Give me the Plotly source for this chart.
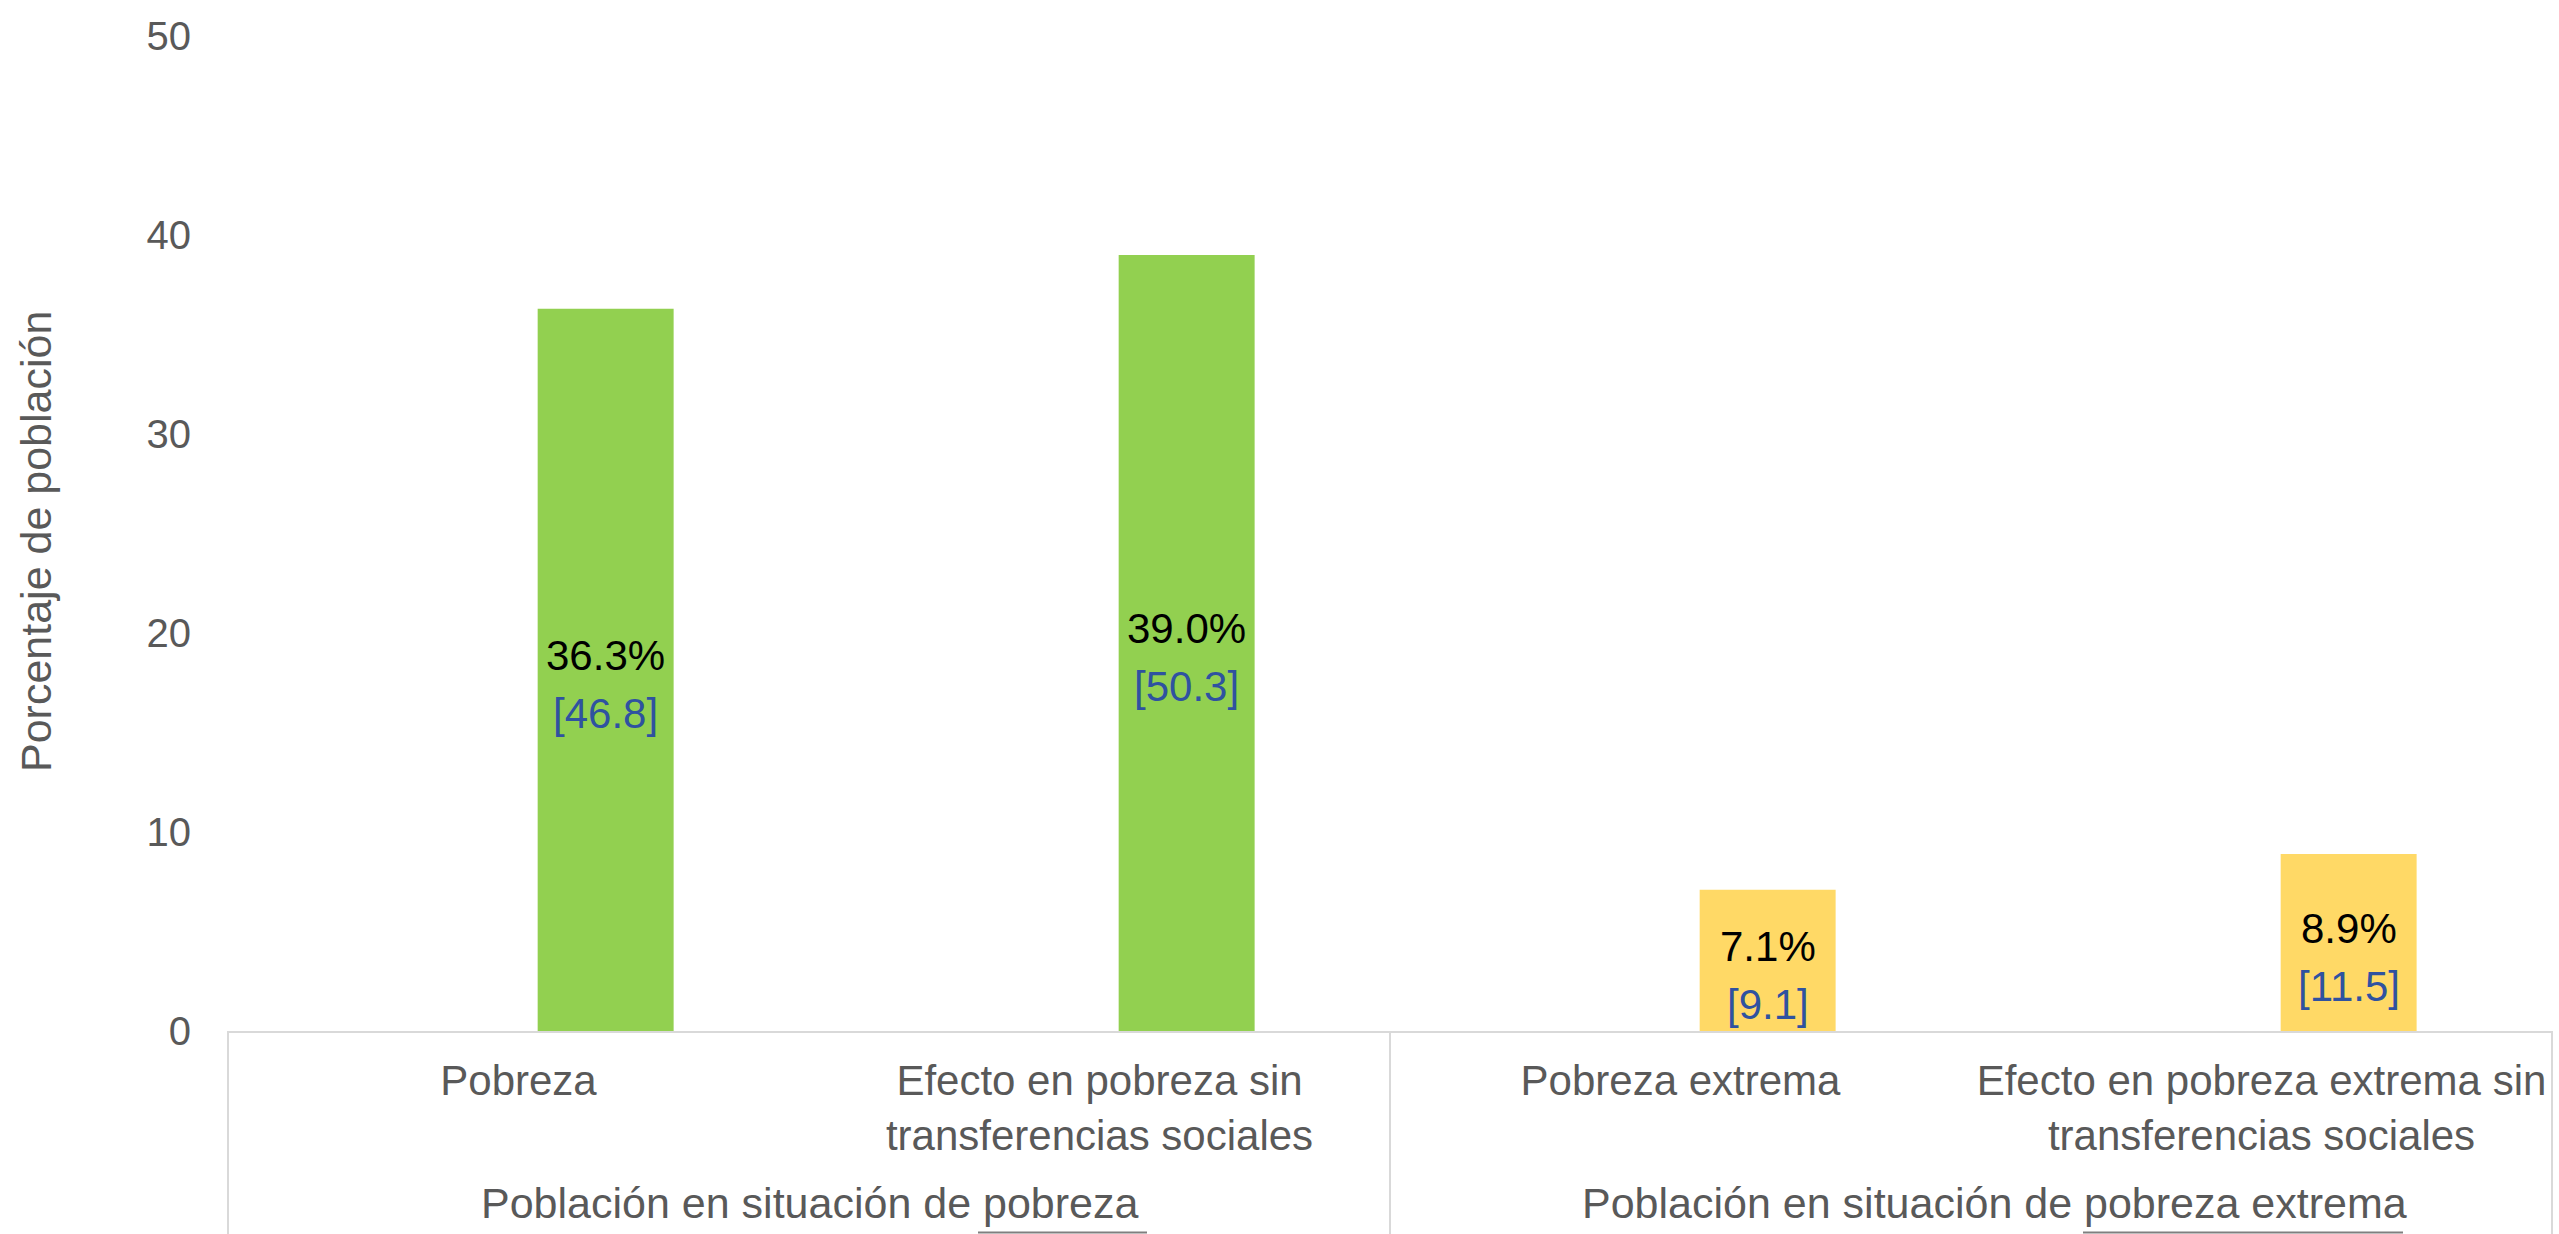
import plotly.graph_objects as go

# ---- data ----
categories = [
    "Pobreza",
    "Efecto en pobreza sin<br>transferencias sociales",
    "Pobreza extrema",
    "Efecto en pobreza extrema sin<br>transferencias sociales",
]
groups = ["Población en situación de pobreza", "Población en situación de pobreza extrema"]
group_sizes = [2, 2]
percent_values = [36.3, 39.0, 7.1, 8.9]
millions_values = [46.8, 50.3, 9.1, 11.5]
series_colors = ["#92D050", "#92D050", "#FFD966", "#FFD966"]
y_ticks = [0, 10, 20, 30, 40, 50]
y_title = "Porcentaje de población"

# ---- style ----
FONT = "Liberation Sans, Arial, sans-serif"
GRAY = "#595959"
LINE = "#D9D9D9"
BLUE = "#2F52A0"
W, H = 2559, 1234
ML, MR, MT, MB = 228, 7, 36, 203
BAR_W, BAR_OFF = 0.234, 0.033
GROUP_LABEL_XSHIFT = [0, 23]

fig = go.Figure()
start = 0
for gi, size in enumerate(group_sizes):
    idx = list(range(start, start + size))
    fig.add_trace(go.Bar(
        x=[categories[i] for i in idx],
        y=[percent_values[i] for i in idx],
        marker=dict(color=[series_colors[i] for i in idx], line=dict(width=0)),
        width=BAR_W,
        offset=BAR_OFF,
        hoverinfo="skip",
        showlegend=False,
    ))
    start += size

n = len(categories)
shapes = []
annotations = []

# data labels (percentage and bracketed value), centred on each bar
for i, (p, m) in enumerate(zip(percent_values, millions_values)):
    xc = i + BAR_OFF + BAR_W / 2
    annotations.append(dict(text=f"{p:.1f}%", xref="x", yref="y", x=xc, y=p / 2,
                            yshift=14, xanchor="center", yanchor="middle", showarrow=False,
                            font=dict(family=FONT, size=42, color="#000000")))
    annotations.append(dict(text=f"[{m:.1f}]", xref="x", yref="y", x=xc, y=p / 2,
                            yshift=-44, xanchor="center", yanchor="middle", showarrow=False,
                            font=dict(family=FONT, size=42, color=BLUE)))

# group dividers and group labels
b = 0
shapes.append(dict(type="line", xref="paper", yref="paper", x0=0, x1=0, y0=0, y1=-0.21,
                   line=dict(color=LINE, width=2)))
for g, size, xs in zip(groups, group_sizes, GROUP_LABEL_XSHIFT):
    center = (b + size / 2) / n
    b += size
    shapes.append(dict(type="line", xref="paper", yref="paper", x0=b / n, x1=b / n,
                       y0=0, y1=-0.21, line=dict(color=LINE, width=2)))
    annotations.append(dict(text=g, xref="paper", yref="paper", x=center, y=-0.173,
                            xshift=xs, xanchor="center", yanchor="middle", showarrow=False,
                            font=dict(family=FONT, size=43, color=GRAY)))

# underline marks seen under the group labels
plot_w = W - ML - MR
for x0, x1 in [(978, 1147), (2083, 2403)]:
    shapes.append(dict(type="line", xref="paper", yref="paper",
                       x0=(x0 - ML) / plot_w, x1=(x1 - ML) / plot_w,
                       y0=-0.2025, y1=-0.2025, line=dict(color="#7F7F7F", width=2)))

# y-axis title
plot_h = H - MT - MB
annotations.append(dict(text=y_title, xref="paper", yref="paper",
                        x=(36 - ML) / plot_w, y=(MT + plot_h - 541) / plot_h,
                        xanchor="center", yanchor="middle", textangle=-90, showarrow=False,
                        font=dict(family=FONT, size=43, color=GRAY)))

fig.update_layout(
    width=W, height=H,
    margin=dict(l=ML, r=MR, t=MT, b=MB, pad=0),
    paper_bgcolor="white", plot_bgcolor="white",
    barmode="group",
    font=dict(family=FONT, size=40, color=GRAY),
    shapes=shapes,
    annotations=annotations,
    showlegend=False,
)
fig.update_xaxes(
    type="category", categoryorder="array", categoryarray=categories,
    showline=True, linecolor=LINE, linewidth=2, mirror=False,
    ticks="outside", ticklen=12, tickcolor="rgba(0,0,0,0)",
    tickfont=dict(family=FONT, size=42, color=GRAY),
    showgrid=False, zeroline=False, automargin=False,
)
fig.update_yaxes(
    range=[0, 50], tickvals=y_ticks,
    showline=False, showgrid=False, zeroline=False,
    ticks="outside", ticklen=28, tickcolor="rgba(0,0,0,0)",
    tickfont=dict(family=FONT, size=40, color=GRAY),
    automargin=False,
)

fig.write_html(
    "out.html",
    config={"displayModeBar": False},
    post_script="document.body.style.margin='0';document.body.style.overflow='hidden';",
)
